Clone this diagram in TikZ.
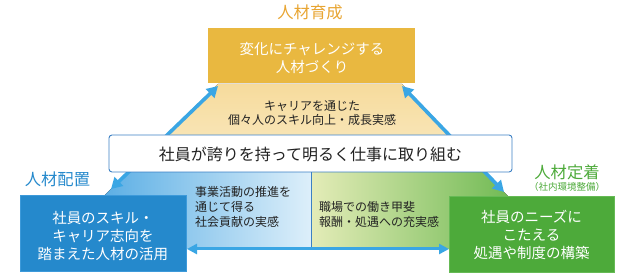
\documentclass[tikz,border=0pt]{standalone}
\usepackage{fontspec}
\setmainfont{Noto Sans CJK JP}
\usetikzlibrary{arrows.meta}
\definecolor{goldbox}{HTML}{E9B840}
\definecolor{goldtxt}{HTML}{E8A532}
\definecolor{peachtop}{HTML}{F6DB9C}
\definecolor{peachbot}{HTML}{FAEBC6}
\definecolor{bluebox}{HTML}{2589CC}
\definecolor{blueedge}{HTML}{3D9ADA}
\definecolor{greenbox}{HTML}{4DAA3A}
\definecolor{greenedge}{HTML}{66BA55}
\definecolor{arrblue}{HTML}{3AA6E4}
\definecolor{bannerline}{HTML}{3C80C4}
\definecolor{lbdark}{HTML}{3A9EDF}
\definecolor{lblight}{HTML}{DDEFFA}
\definecolor{lgdark}{HTML}{55AE3C}
\definecolor{lglight}{HTML}{E4ECB8}
\definecolor{ink}{HTML}{222222}
\tikzset{
  boxshape/.style={inner sep=0pt, outer sep=0pt},
  boxtext/.style={text=white, align=center, inner sep=0pt, font=\fontsize{14.5}{18}\selectfont},
  midtext/.style={text=ink, align=left, inner sep=0pt, font=\fontsize{12}{15}\selectfont},
  peachtext/.style={text=ink, align=center, inner sep=0pt, font=\fontsize{12}{14.5}\selectfont},
  titletext/.style={inner sep=0pt, font=\fontsize{16.3}{19}\selectfont},
  bigarrow/.style={draw=arrblue, line width=3.6pt,
    {Triangle[length=11pt,width=12pt]}-{Triangle[length=11pt,width=12pt]}},
  basearrow/.style={draw=arrblue, line width=3pt,
    {Triangle[length=10pt,width=10pt]}-{Triangle[length=10pt,width=10pt]}}
}
\begin{document}
\begin{tikzpicture}[x=1pt,y=-1pt]
\useasboundingbox (0,0) rectangle (624,275);
% triangle fills
\fill[top color=peachtop, bottom color=peachbot] (218,84) -- (402,84) -- (485,172) -- (128.5,172) -- cycle;
\fill[left color=lbdark, right color=lblight] (128.5,172) -- (311,172) -- (311,249) -- (49,249) -- cycle;
\fill[left color=lglight, right color=lgdark] (311,172) -- (485,172) -- (558,249) -- (311,249) -- cycle;
% divider
\coordinate (dvtop) at (311,172);
\coordinate (dvbot) at (311,248);
\draw[draw=bannerline, line width=0.8pt] (dvtop) -- (dvbot);
% arrow end points
\coordinate (ltip) at (218,86);
\coordinate (lbot) at (111,189);
\coordinate (rtip) at (402,86);
\coordinate (rbot) at (504,192);
\coordinate (bl) at (187,249);
\coordinate (br) at (449,249);
\draw[bigarrow] (lbot) -- (ltip);
\draw[bigarrow] (rbot) -- (rtip);
\draw[basearrow] (bl) -- (br);
% banner
\node[boxshape, draw=bannerline, fill=white, line width=0.9pt, rounded corners=3pt,
      minimum width=403pt, minimum height=37pt] (banner) at (310.5,153.5) {};
\node[inner sep=0pt, text=ink, font=\fontsize{16}{19}\selectfont] (bannertxt) at (310.5,154) {社員が誇りを持って明るく仕事に取り組む};
% top box
\node[boxshape, fill=goldbox, minimum width=207pt, minimum height=55pt] (topbox) at (311.5,56) {};
\node[boxtext] (toptxt) at (312,58) {変化にチャレンジする\\人材づくり};
% peach text
\node[peachtext] (peachtxt) at (312,113) {キャリアを通じた\\個々人のスキル向上・成長実感};
% left box
\node[boxshape, fill=bluebox, draw=blueedge, line width=0.8pt, minimum width=166pt, minimum height=76pt] (leftbox) at (103,233) {};
\node[boxtext] (lefttxt) at (103,236) {社員のスキル・\\キャリア志向を\\踏まえた人材の活用};
% right box
\node[boxshape, fill=greenbox, draw=greenedge, line width=0.8pt, minimum width=165pt, minimum height=76pt] (rightbox) at (531.5,234) {};
\node[boxtext] (righttxt) at (531.5,234.5) {社員のニーズに\\こたえる\\処遇や制度の構築};
% middle texts
\node[midtext, anchor=west] (midl) at (195,207) {事業活動の推進を\\通じて得る\\社会貢献の実感};
\node[midtext, anchor=west] (midr) at (319,214.5) {職場での働き甲斐\\報酬・処遇への充実感};
% titles
\node[titletext, text=goldtxt] (t1) at (310,12) {人材育成};
\node[titletext, text=bluebox] (t2) at (57.5,179) {人材配置};
\node[titletext, text=greenbox] (t3) at (567,172) {人材定着};
\node[inner sep=0pt, text=greenbox, font=\fontsize{9.5}{11}\selectfont] (t3b) at (567,186.5) {（社内環境整備）};
\end{tikzpicture}
\end{document}
